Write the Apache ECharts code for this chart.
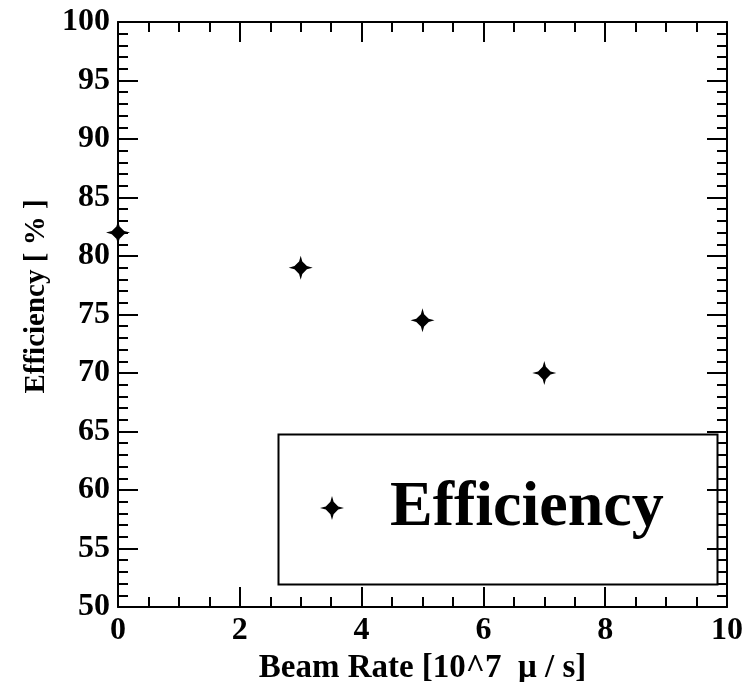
<!DOCTYPE html>
<html>
<head>
<meta charset="utf-8">
<script src="https://cdn.jsdelivr.net/npm/echarts@6/dist/echarts.min.js"></script>
<style>
  html, body { margin: 0; padding: 0; background: #fff; }
  #chart { width: 746px; height: 682px; }
</style>
</head>
<body>
<div id="chart"></div>
<script>
// Beam rate in units of 10^7 muons per second
const beamRate = [0, 3, 5, 7];
// Measured efficiency in percent
const efficiency = [82, 79, 74.5, 70];
const seriesName = 'Efficiency';

const xTitle = 'Beam Rate [10^7  \u03bc / s]';
const yTitle = 'Efficiency [ % ]';

const FONT = '"Liberation Serif", "DejaVu Serif", serif';
// four-pointed star with a solid centre
const star = 'path://M12,0 L13.6,5.8 L18.2,10.4 L24,12 L18.2,13.6 L13.6,18.2 L12,24 L10.4,18.2 L5.8,13.6 L0,12 L5.8,10.4 L10.4,5.8 Z';

const chart = echarts.init(document.getElementById('chart'), null, { renderer: 'canvas' });

const axisLine = { show: true, onZero: false, lineStyle: { color: '#000', width: 2 } };
const tick = { show: true, inside: true, length: 20, lineStyle: { color: '#000', width: 2 } };

chart.setOption({
  animation: false,
  backgroundColor: '#fff',
  grid: { left: 118, top: 22, right: 19, bottom: 75, containLabel: false, outerBoundsMode: 'none' },
  xAxis: [
    {
      type: 'value', min: 0, max: 10, interval: 2, position: 'bottom',
      axisLine: axisLine, axisTick: tick,
      minorTick: { show: true, splitNumber: 4, length: 10, lineStyle: { color: '#000', width: 2 } },
      splitLine: { show: false },
      axisLabel: { color: '#000', fontFamily: FONT, fontWeight: 'bold', fontSize: 32, margin: 8 },
      name: xTitle, nameLocation: 'middle', nameGap: 42,
      nameTextStyle: { color: '#000', fontFamily: FONT, fontWeight: 'bold', fontSize: 33 }
    },
    {
      type: 'value', min: 0, max: 10, interval: 2, position: 'top',
      axisLine: axisLine, axisTick: tick,
      minorTick: { show: true, splitNumber: 4, length: 10, lineStyle: { color: '#000', width: 2 } },
      splitLine: { show: false }, axisLabel: { show: false }
    }
  ],
  yAxis: [
    {
      type: 'value', min: 50, max: 100, interval: 5, position: 'left',
      axisLine: axisLine, axisTick: tick,
      minorTick: { show: true, splitNumber: 5, length: 10, lineStyle: { color: '#000', width: 2 } },
      splitLine: { show: false },
      axisLabel: { color: '#000', fontFamily: FONT, fontWeight: 'bold', fontSize: 32, margin: 8 },
      name: yTitle, nameLocation: 'middle', nameGap: 67, nameRotate: 90,
      nameTextStyle: { color: '#000', fontFamily: FONT, fontWeight: 'bold', fontSize: 29, padding: [0, 0, 0, 36] }
    },
    {
      type: 'value', min: 50, max: 100, interval: 5, position: 'right',
      axisLine: axisLine, axisTick: tick,
      minorTick: { show: true, splitNumber: 5, length: 10, lineStyle: { color: '#000', width: 2 } },
      splitLine: { show: false }, axisLabel: { show: false }
    }
  ],
  legend: {
    left: 320, top: 476, padding: 0,
    itemWidth: 24, itemHeight: 24,
    icon: star,
    data: [seriesName],
    itemStyle: { color: '#000', opacity: 1 },
    textStyle: { color: '#000', fontFamily: FONT, fontWeight: 'bold', fontSize: 64, lineHeight: 64, padding: [0, 0, 0, 41] }
  },
  graphic: [
    {
      type: 'rect', left: 276, top: 432, z: 0,
      shape: { width: 439, height: 150 },
      style: { fill: 'none', stroke: '#000', lineWidth: 2 }
    }
  ],
  series: [
    {
      name: seriesName, type: 'scatter', clip: false,
      symbol: star, symbolSize: 24,
      itemStyle: { color: '#000', opacity: 1 },
      data: beamRate.map((x, i) => [x, efficiency[i]])
    }
  ]
});
</script>
</body>
</html>
